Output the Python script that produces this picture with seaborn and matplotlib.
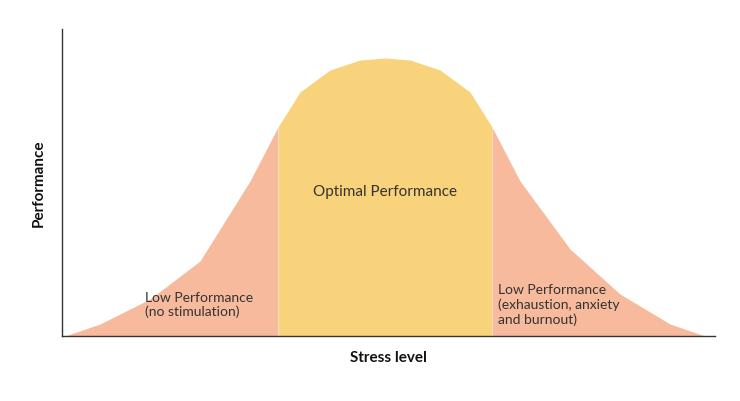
import matplotlib
matplotlib.use("Agg")
import matplotlib.pyplot as plt
import seaborn as sns
import numpy as np

sns.set_theme(style="white")
plt.rcParams['font.family'] = ['Lato', 'DejaVu Sans']

# Curva (estrés vs rendimiento)
stress = [65, 100, 150, 200, 250, 278, 300, 330, 360, 385, 410, 440, 470, 492, 520, 570, 620, 670, 705]
perf = [0, 12, 37, 75, 155, 209, 244, 266, 276, 278, 276, 266, 244, 209, 155, 87, 42, 12, 0]
low_edge = 278
high_edge = 492

salmon = "#F7BA9D"
yellow = "#F9D37B"

fig = plt.figure(figsize=(7.4, 4.02), dpi=100)
ax = fig.add_axes([62 / 740, 65 / 402, 653 / 740, 307 / 402])

x = np.array(stress)
y = np.array(perf)
ax.fill_between(x, y, where=x <= low_edge, color=salmon, linewidth=0)
ax.fill_between(x, y, where=(x >= low_edge) & (x <= high_edge), color=yellow, linewidth=0)
ax.fill_between(x, y, where=x >= high_edge, color=salmon, linewidth=0)
sns.lineplot(x=[low_edge, low_edge], y=[0, 209], color="white", lw=1.5, ax=ax)
sns.lineplot(x=[high_edge, high_edge], y=[0, 209], color="white", lw=1.5, ax=ax)

ax.set_xlim(62, 715)
ax.set_ylim(0, 307)
ax.set_xticks([])
ax.set_yticks([])
for s in ["top", "right"]:
    ax.spines[s].set_visible(False)
for s in ["left", "bottom"]:
    ax.spines[s].set_color("#333333")
    ax.spines[s].set_linewidth(1)

ax.text(385, 145, "Optimal Performance", ha="center", va="center", fontsize=11, color="#333333")
ax.text(145, 32, "Low Performance\n(no stimulation)", ha="left", va="center", fontsize=10, color="#333333")
ax.text(498, 32, "Low Performance\n(exhaustion, anxiety\nand burnout)", ha="left", va="center", fontsize=10, color="#333333")

ax.set_xlabel("Stress level", fontsize=11, fontweight="bold", labelpad=10, color="#111111")
ax.set_ylabel("Performance", fontsize=11, fontweight="bold", labelpad=12, color="#111111")

fig.savefig("out.png", dpi=100)
